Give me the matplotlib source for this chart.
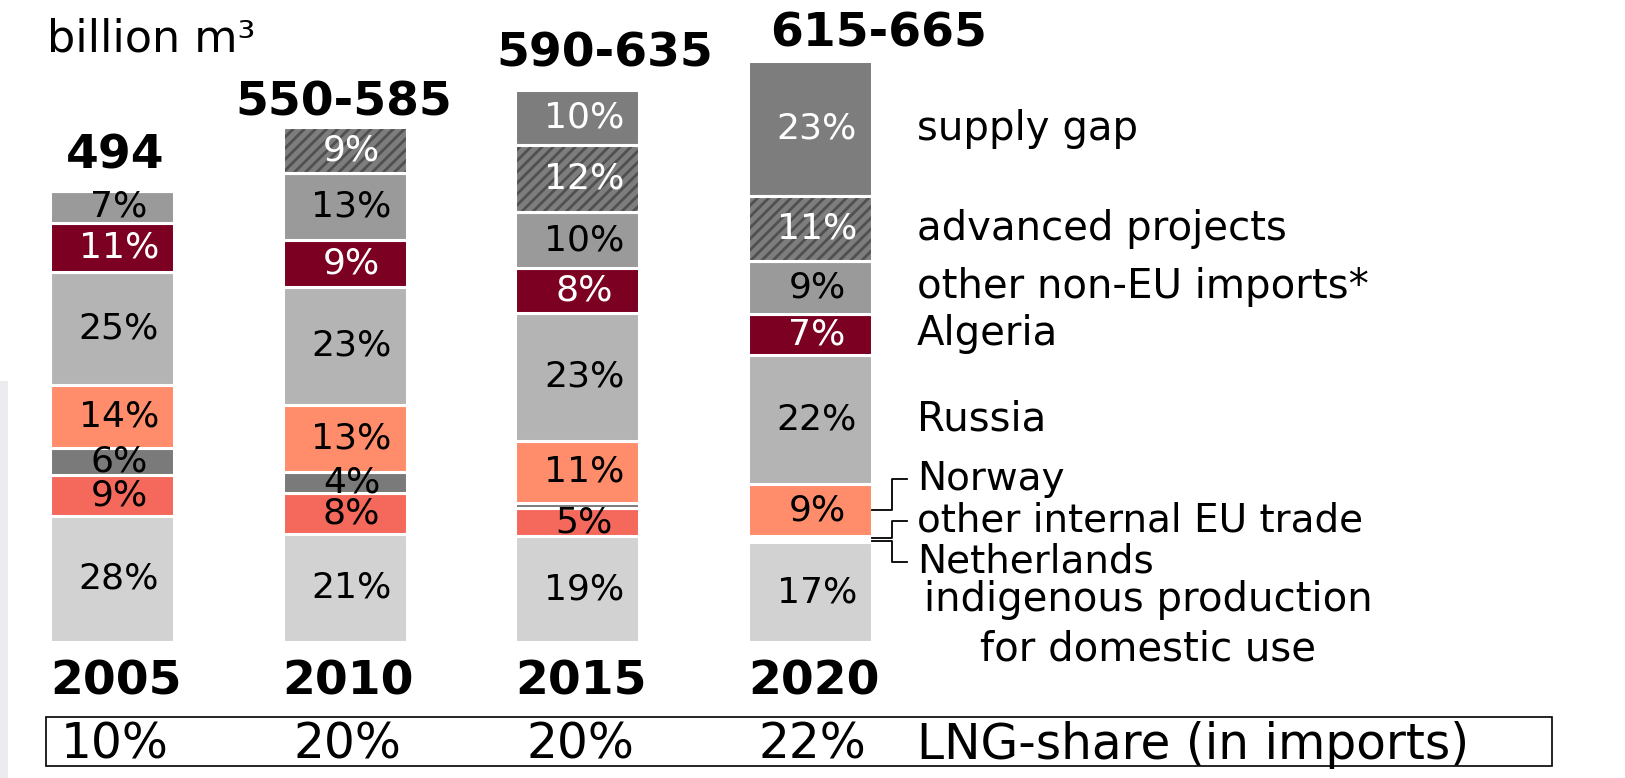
import numpy as np
import matplotlib.pyplot as plt
from matplotlib.patches import Rectangle

plt.rcParams['font.family'] = ['DejaVu Sans']
plt.rcParams['hatch.linewidth'] = 2.0

years = ["2005", "2010", "2015", "2020"]
totals = [494, 564, 605, 636]  # bar heights, billion m3
total_labels = ["494", "550-585", "590-635", "615-665"]
lng_share = ["10%", "20%", "20%", "22%"]

# shares (%) from bottom to top
indigenous = [28, 21, 19, 17]
netherlands = [9, 8, 5, 0.5]
other_eu = [6, 4, 1, 0.5]
norway = [14, 13, 11, 9]
russia = [25, 23, 23, 22]
algeria = [11, 9, 8, 7]
other_non_eu = [7, 13, 10, 9]
advanced = [0, 9, 12, 11]
supply_gap = [0, 0, 10, 23]

series = [
    ("indigenous production\nfor domestic use", indigenous, "#d2d2d2", "black", False),
    ("Netherlands", netherlands, "#f4695c", "black", False),
    ("other internal EU trade", other_eu, "#7a7a7a", "black", False),
    ("Norway", norway, "#ff8c6b", "black", False),
    ("Russia", russia, "#b4b4b4", "black", False),
    ("Algeria", algeria, "#7b0022", "white", False),
    ("other non-EU imports*", other_non_eu, "#9a9a9a", "black", False),
    ("advanced projects", advanced, "#7d7d7d", "white", True),
    ("supply gap", supply_gap, "#7d7d7d", "white", False),
]

fig = plt.figure(figsize=(16.25, 7.78), dpi=100)
ax = fig.add_axes([0, 0, 1, 1])
ax.set_xlim(-0.481, 6.502)
ax.set_ylim(-148.96, 703.2)
ax.axis("off")

x = np.arange(len(years))
width = 0.533
sums = np.array([sum(s[1][i] for s in series) for i in range(len(years))])
scale = np.array(totals) / sums

bottom = np.zeros(len(years))
seg_centers = {}
for name, pct, color, tcolor, hatched in series:
    vals = np.array(pct) * scale
    ax.bar(x, vals, width, bottom=bottom, color=color, edgecolor="white", linewidth=2.2, zorder=2)
    if hatched:
        ax.bar(x, vals, width, bottom=bottom, facecolor="none", edgecolor="#505050",
               hatch="///", linewidth=0, zorder=3)
        ax.bar(x, vals, width, bottom=bottom, facecolor="none", edgecolor="white",
               linewidth=2.2, zorder=4)
    for i, p in enumerate(pct):
        if p >= 2:
            ax.text(x[i] + 0.03, bottom[i] + vals[i] / 2, f"{p}%", ha="center", va="center",
                    fontsize=26, color=tcolor, zorder=5)
    seg_centers[name] = bottom + vals / 2
    bottom = bottom + vals

# totals above bars
total_pos = [(0.013, 519), (0.997, 577), (2.119, 630), (3.296, 652)]
for (tx, ty), lab in zip(total_pos, total_labels):
    ax.text(tx, ty, lab, ha="center", va="baseline", fontsize=34, fontweight="bold")

# year labels
for i, yr in enumerate(years):
    ax.text(x[i] - width / 2, -58, yr, ha="left", va="baseline", fontsize=34, fontweight="bold")

# category labels on the right
lx = 3.459
last = len(years) - 1
for name in ["supply gap", "advanced projects", "other non-EU imports*", "Algeria", "Russia"]:
    ax.text(lx, seg_centers[name][last], name, ha="left", va="center", fontsize=29)

bx0 = x[last] + width / 2
bx1 = bx0 + 0.085
bx2 = bx0 + 0.15
for name, ly in [("Norway", 179), ("other internal EU trade", 133), ("Netherlands", 88)]:
    sy = seg_centers[name][last]
    ax.plot([bx0, bx1, bx1, bx2], [sy, sy, ly, ly], color="black", lw=1.3, zorder=5)
    ax.text(lx, ly, name, ha="left", va="center", fontsize=28)

ax.text(4.452, 19, "indigenous production\nfor domestic use", ha="center", va="center",
        fontsize=29, linespacing=1.3)

# unit
ax.text(-0.279, 647, "billion m³", ha="left", va="baseline", fontsize=32)

# LNG share row
ax.add_patch(Rectangle((-0.2836, -135.8), 6.4716, 53.8, facecolor="none", edgecolor="black", lw=1.2))
for i, s in enumerate(lng_share):
    ax.text(x[i] - 0.22, -128, s, ha="left", va="baseline", fontsize=35)
ax.text(lx, -128, "LNG-share (in imports)", ha="left", va="baseline", fontsize=35)

# faint slide edge on the left
fig.patches.append(Rectangle((0, 0), 0.005, 0.51, transform=fig.transFigure,
                             facecolor="#ebebf0", edgecolor="none"))

fig.savefig("out.png", dpi=100)
